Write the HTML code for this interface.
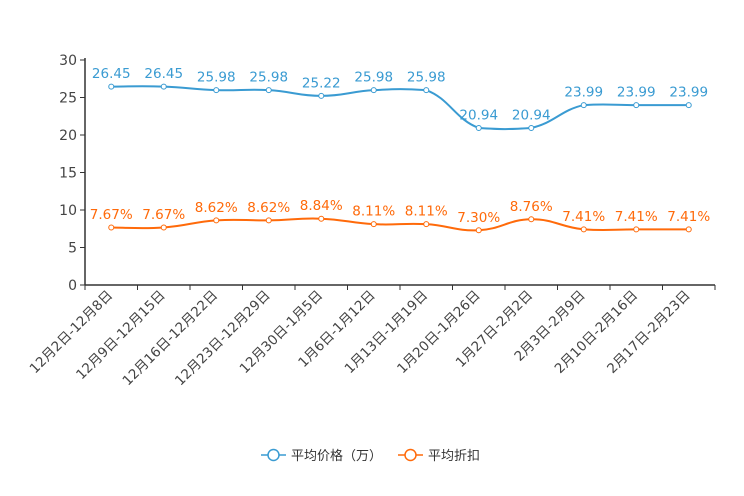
<!DOCTYPE html>
<html><head><meta charset="utf-8"><style>
body{margin:0;background:#fff;}
svg{display:block;font-family:"DejaVu Sans","Noto Sans CJK SC",sans-serif;}
</style></head><body>
<svg id="c" width="744" height="496"></svg>
<script>
const categories=["12月2日-12月8日","12月9日-12月15日","12月16日-12月22日","12月23日-12月29日","12月30日-1月5日","1月6日-1月12日","1月13日-1月19日","1月20日-1月26日","1月27日-2月2日","2月3日-2月9日","2月10日-2月16日","2月17日-2月23日"];
const priceValues=[26.45,26.45,25.98,25.98,25.22,25.98,25.98,20.94,20.94,23.99,23.99,23.99];
const discountValues=[7.67,7.67,8.62,8.62,8.84,8.11,8.11,7.30,8.76,7.41,7.41,7.41];
const yTicks=[0,5,10,15,20,25,30];
const NS="http://www.w3.org/2000/svg";
const svg=document.getElementById('c');
const X0=85,X1=715,Y0=285,Y1=60,YMAX=30;
const bw=(X1-X0)/categories.length;
function xPos(i){return X0+bw*(i+0.5);}
function yPos(v){return Y0-(v/YMAX)*(Y0-Y1);}
function mk(t,a,txt){const e=document.createElementNS(NS,t);for(const k in a)e.setAttribute(k,a[k]);if(txt!==undefined)e.textContent=txt;svg.appendChild(e);return e;}
let ax=mk('line',{x1:X0,y1:Y1-2,x2:X0,y2:Y0,stroke:'#333','stroke-width':1.5});


yTicks.forEach(v=>{
 const y=yPos(v);
 let t=mk('line',{x1:X0-5,y1:y,x2:X0,y2:y,stroke:'#333'});
 
 
 let l=mk('text',{x:X0-8,y:y+5,'text-anchor':'end','font-size':14,fill:'#444'},v);
 
 
});
let xa=mk('line',{x1:X0,y1:Y0,x2:X1,y2:Y0,stroke:'#333','stroke-width':1.5});


for(let i=0;i<=categories.length;i++){
 const x=X0+bw*i;
 let t=mk('line',{x1:x,y1:Y0,x2:x,y2:Y0+5,stroke:'#333'});
 
 
}
categories.forEach((c,i)=>{
 const x=xPos(i)+2,y=Y0+11;
 let l=mk('text',{x:x,y:y,'text-anchor':'end','font-size':13.5,fill:'#444',transform:`rotate(-45 ${x} ${y})`},c);
 
 
});
function smooth(pts){
 let d=`M${pts[0][0]},${pts[0][1]}`;
 for(let i=0;i<pts.length-1;i++){
  const p0=pts[Math.max(0,i-1)],p1=pts[i],p2=pts[i+1],p3=pts[Math.min(pts.length-1,i+2)];
  const s=0.22;
  const lo=Math.min(p1[1],p2[1]),hi=Math.max(p1[1],p2[1]);
  const cl=v=>Math.max(lo-1.5,Math.min(hi+1.5,v));
  const c1=[p1[0]+(p2[0]-p0[0])*s,cl(p1[1]+(p2[1]-p0[1])*s)];
  const c2=[p2[0]-(p3[0]-p1[0])*s,cl(p2[1]-(p3[1]-p1[1])*s)];
  d+=` C${c1[0]},${c1[1]} ${c2[0]},${c2[1]} ${p2[0]},${p2[1]}`;
 }
 return d;
}
function series(vals,color,name,fmt){
 const pts=vals.map((v,i)=>[xPos(i),yPos(v)]);
 let p=mk('path',{d:smooth(pts),fill:'none',stroke:color,'stroke-width':2});
 
 
 pts.forEach((q,i)=>{
  let c=mk('circle',{cx:q[0],cy:q[1],r:2.5,fill:'#fff',stroke:color,'stroke-width':1});
  
  
  let t=mk('text',{x:q[0],y:q[1]-8.5,'text-anchor':'middle','font-size':13.5,fill:color},fmt(vals[i]));
  
  
 });
}
series(priceValues,'#3a9bd2','price',v=>v.toFixed(2));
series(discountValues,'#ff6a0a','discount',v=>v.toFixed(2)+'%');
function legend(x,color,label,name){
 let g=document.createElementNS(NS,'g');svg.appendChild(g);
 
 
 const y=455;
 [['line',{x1:x,y1:y,x2:x+25,y2:y,stroke:color,'stroke-width':1.5}],['circle',{cx:x+12.5,cy:y,r:5.5,fill:'#fff',stroke:color,'stroke-width':1.5}]].forEach(([t,a])=>{const e=document.createElementNS(NS,t);for(const k in a)e.setAttribute(k,a[k]);g.appendChild(e);});
 const tx=document.createElementNS(NS,'text');tx.setAttribute('x',x+30);tx.setAttribute('y',y+5);tx.setAttribute('font-size',13);tx.setAttribute('fill','#333');tx.textContent=label;g.appendChild(tx);
}
legend(261,'#3a9bd2','平均价格（万）','legend-price');
legend(398,'#ff6a0a','平均折扣','legend-discount');
</script>
</body></html>
